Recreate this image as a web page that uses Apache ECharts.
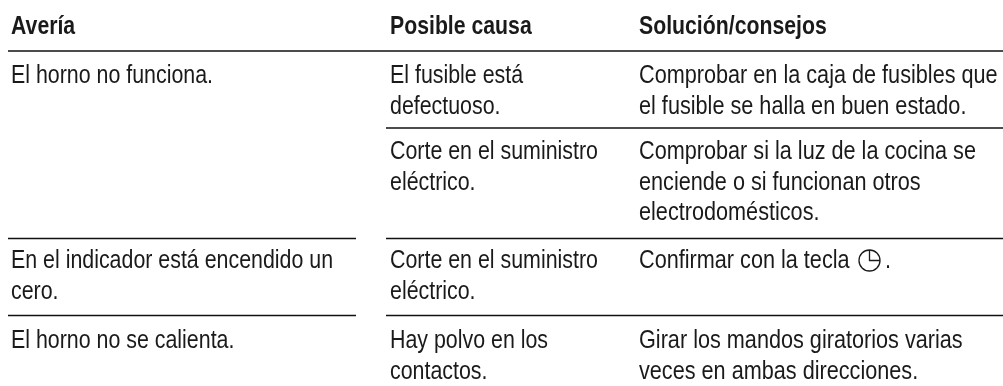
<!DOCTYPE html>
<html>
<head>
<meta charset="utf-8">
<style>html,body{margin:0;padding:0;background:#fff}#main{width:1003px;height:386px}</style>
<script src="https://cdn.jsdelivr.net/npm/echarts@6/dist/echarts.min.js"></script>
</head>
<body>
<div id="main"></div>
<script>
const headers = ['Avería', 'Posible causa', 'Solución/consejos'];
const faults = ['El horno no funciona.', 'En el indicador está encendido un\ncero.', 'El horno no se calienta.'];
const causes = ['El fusible está\ndefectuoso.', 'Corte en el suministro\neléctrico.', 'Corte en el suministro\neléctrico.', 'Hay polvo en los\ncontactos.'];
const remedies = [
    'Comprobar en la caja de fusibles que\nel fusible se halla en buen estado.',
    'Comprobar si la luz de la cocina se\nenciende o si funcionan otros\nelectrodomésticos.',
    'Confirmar con la tecla',
    'Girar los mandos giratorios varias\nveces en ambas direcciones.'
];

// layout, in page pixels
const colX = [11, 390, 639];
const headY = 11.5;
const causeY = [60.5, 136.5, 245.5, 325.5];
const faultY = [60.5, 245.5, 325.5];
const rules = [[8, 1003, 51], [386, 1003, 128], [8, 356, 238.5], [386, 1003, 238.5], [8, 356, 315.5], [386, 1003, 315.5]];
const clock = [869.5, 260.5, 10.5];
const font = '"Liberation Sans", sans-serif';

// squeeze the Liberation glyphs to the narrow look of the original
const cells = [];
headers.forEach((t, i) => cells.push([colX[i], headY, t, 700, 0.85]));
faults.forEach((t, i) => cells.push([colX[0], faultY[i], t, 400, 0.855]));
causes.forEach((t, i) => cells.push([colX[1], causeY[i], t, 400, 0.855]));
remedies.forEach((t, i) => cells.push([colX[2], causeY[i], t, 400, 0.866]));
cells.push([885, causeY[2], '.', 400, 0.866]);

const chart = echarts.init(document.getElementById('main'), null, {renderer: 'canvas'});
chart.setOption({
    animation: false,
    backgroundColor: '#fff',
    grid: {left: 0, right: 0, top: 0, bottom: 0},
    xAxis: {type: 'value', min: 0, max: 1003, show: false},
    yAxis: {type: 'value', min: 0, max: 386, inverse: true, show: false},
    series: [
        {
            type: 'custom',
            coordinateSystem: 'cartesian2d',
            data: rules,
            renderItem(params, api) {
                const a = api.coord([api.value(0), api.value(2)]);
                const b = api.coord([api.value(1), api.value(2)]);
                return {
                    type: 'line',
                    shape: {x1: a[0], y1: a[1], x2: b[0], y2: b[1]},
                    style: {stroke: '#111', lineWidth: 1.5}
                };
            }
        },
        {
            type: 'custom',
            coordinateSystem: 'cartesian2d',
            data: cells.map((c, i) => [c[0], c[1], i]),
            renderItem(params, api) {
                const c = cells[api.value(2)];
                const p = api.coord([c[0], c[1]]);
                return {
                    type: 'text',
                    x: p[0],
                    y: p[1],
                    scaleX: c[4],
                    style: {
                        text: c[2],
                        fill: '#1a1a1a',
                        font: c[3] + ' 25px ' + font,
                        lineHeight: 30.8,
                        verticalAlign: 'top',
                        align: 'left'
                    }
                };
            }
        },
        {
            type: 'custom',
            coordinateSystem: 'cartesian2d',
            data: [clock],
            renderItem(params, api) {
                const p = api.coord([api.value(0), api.value(1)]);
                const r = api.value(2);
                const style = {stroke: '#1a1a1a', fill: null, lineWidth: 1.3};
                return {
                    type: 'group',
                    children: [
                        {type: 'circle', shape: {cx: p[0], cy: p[1], r}, style},
                        {type: 'polyline', shape: {points: [[p[0], p[1] - r], [p[0], p[1]], [p[0] + r, p[1]]]}, style}
                    ]
                };
            }
        }
    ]
});
</script>
</body>
</html>
